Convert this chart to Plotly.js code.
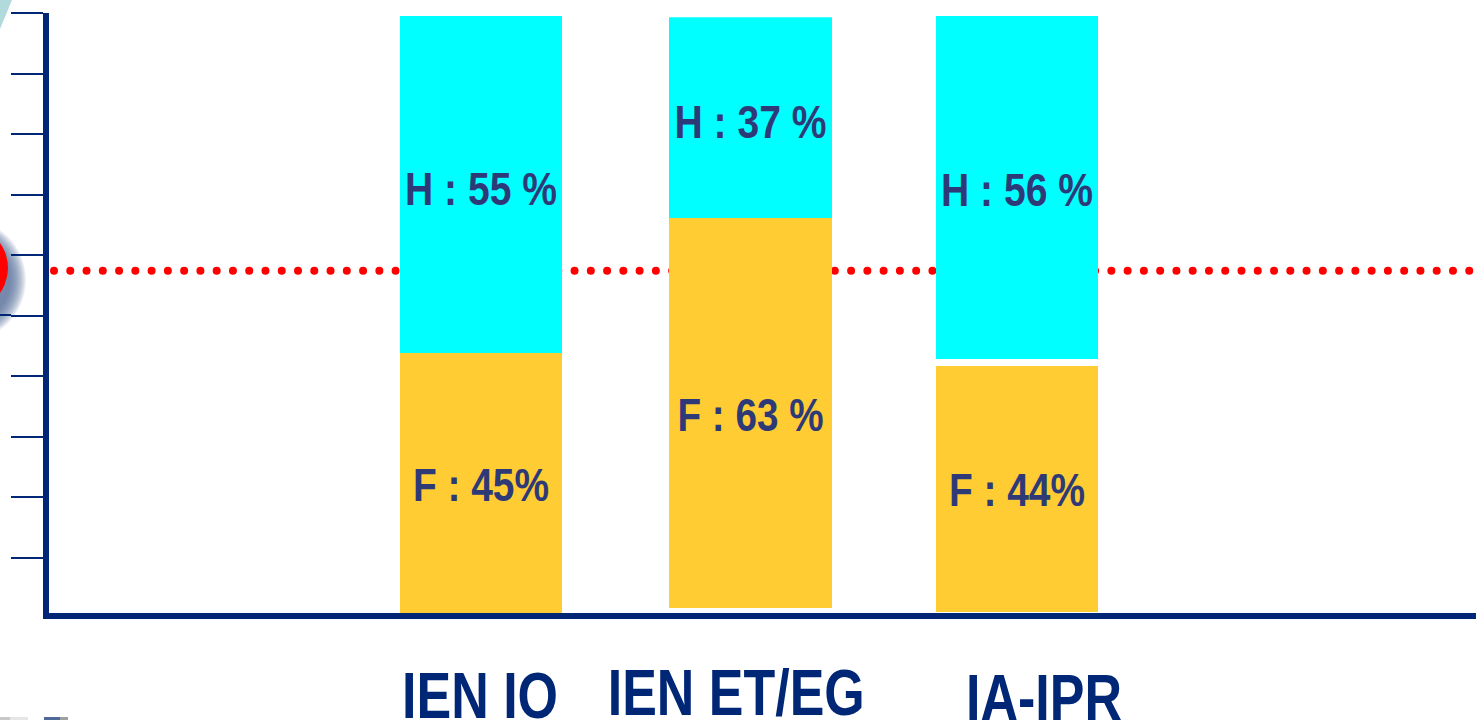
<!DOCTYPE html>
<html><head><meta charset="utf-8">
<script src="https://cdn.plot.ly/plotly-3.0.1.min.js"></script>
<style>
html,body{margin:0;padding:0;background:#fff;overflow:hidden}
#c{width:1476px;height:720px}
</style></head><body><div id="c"></div>
<script>
// Categories and bar extents in axis units (0-100 scale)
const categories = ['IEN IO', 'IEN ET/EG', 'IA-IPR'];
const categoryX = [481, 750.5, 1017];
const femaleBase = [0.83, 1.65, 0.99];
const femaleTop = [43.8, 66.1, 41.65];
const maleBase = [43.8, 66.1, 42.8];
const maleTop = [99.5, 99.3, 99.5];
const femaleLabels = ['F : 45%', 'F : 63 %', 'F : 44%'];
const maleLabels = ['H : 55 %', 'H : 37 %', 'H : 56 %'];
const yTicks = [10,20,30,40,50,60,70,80,90,100];
const referenceLevel = 57.4;

// Layout-only settings
const barWidths = [162, 163, 162];
const catLabelX = [480, 736.5, 1044];
const catLabelY = [695.5, 693, 697.5];
const catLabelW = [156, 257, 156];
const femaleLabelW = [136, 146, 136];
const maleLabelW = [152, 152, 152];
const femaleNudge = [2, 2, 1];
const maleNudge = [4, 4, 2];

const NAVY = '#002776', TEXT = '#2E3A78', FONT = '"Liberation Sans",Arial,sans-serif';
const px = v => (v - 49) / 1427, py = v => (613 - v) / 600;
const circle = (cx, cy, r, color, op) => ({type:'circle', xref:'paper', yref:'paper', layer:'below',
  x0:px(cx-r), x1:px(cx+r), y0:py(cy+r), y1:py(cy-r), fillcolor:color, opacity:op, line:{width:0}});
const box = (x0,x1,y0,y1,color) => ({type:'rect', xref:'paper', yref:'paper', layer:'above',
  x0:px(x0), x1:px(x1), y0:py(y1), y1:py(y0), fillcolor:color, line:{width:0}});

const shapes = [
  {type:'path', xref:'paper', yref:'paper', layer:'above',
   path:`M ${px(0)} ${py(0)} L ${px(12)} ${py(0)} L ${px(0)} ${py(29)} Z`, fillcolor:'#B2DADD', line:{width:0}}
];
[61,60,59,58,57,56,55,54,53,52,51,50,49,48,47,46,45].forEach(r => shapes.push(circle(-35, 280, r, '#5A6C9C', 0.09)));
shapes.push(circle(-35, 268, 43, '#FF0000', 1));
shapes.push(box(0,11,314,316,NAVY));
shapes.push(box(0,10,717,720,'#C8C8C8'));
shapes.push(box(10,28,717,720,'#E6E6E6'));
shapes.push(box(44,60,717,720,'#4E6A9A'));
shapes.push(box(60,68,717,720,'#A0A0A0'));
shapes.push({type:'line', xref:'x', yref:'y', layer:'below', x0:54, x1:1476, y0:referenceLevel, y1:referenceLevel,
   line:{color:'#FF0000', width:8, dash:'8px,8.27px'}});

const stack = (base, top, labels, color, name) => ({
  type:'bar', name, x:categoryX, base, y:top.map((t,i)=>t-base[i]), width:barWidths,
  marker:{color, line:{width:0}}, text:labels, textposition:'inside', insidetextanchor:'middle',
  textangle:0, constraintext:'none', insidetextfont:{family:FONT, size:46, color:TEXT, weight:700}, hoverinfo:'name+text'
});

const data = [
  stack(femaleBase, femaleTop, femaleLabels, '#FFCC33', 'F'),
  stack(maleBase, maleTop, maleLabels, '#00FFFF', 'H')
];

const layout = {
  width:1476, height:720, showlegend:false, barmode:'overlay',
  paper_bgcolor:'#fff', plot_bgcolor:'rgba(0,0,0,0)',
  margin:{l:49, r:0, t:13, b:107, pad:0},
  xaxis:{range:[49,1476], showgrid:false, zeroline:false, showticklabels:false, ticks:'',
         showline:true, linecolor:NAVY, linewidth:6},
  yaxis:{range:[0.83,100], tickmode:'array', tickvals:yTicks, showticklabels:false, showgrid:false, zeroline:false,
         ticks:'outside', ticklen:32, tickwidth:2, tickcolor:NAVY, showline:true, linecolor:NAVY, linewidth:6},
  shapes,
  annotations: categories.map((c,i)=>({text:c, xref:'x', yref:'paper', x:catLabelX[i], y:py(catLabelY[i]), yanchor:'middle', xanchor:'center',
    showarrow:false, font:{family:FONT, size:64, color:NAVY, weight:700}}))
};
Plotly.newPlot('c', data, layout, {displayModeBar:false, staticPlot:true}).then(() => {
  const narrow = (el, w) => { el.setAttribute('textLength', w); el.setAttribute('lengthAdjust', 'spacingAndGlyphs'); };
  const barGroups = document.querySelectorAll('.barlayer .trace.bars');
  [[femaleLabelW, femaleNudge], [maleLabelW, maleNudge]].forEach(([widths, nudge], t) => {
    barGroups[t].querySelectorAll('text').forEach((el, i) => { narrow(el, widths[i]); el.setAttribute('dy', nudge[i]); });
  });
  document.querySelectorAll('.annotation-text').forEach((el, i) => narrow(el, catLabelW[i]));
  const dots = [...document.querySelectorAll('.shapelayer path')].find(p => (p.style.strokeDasharray || '').includes('8'));
  if (dots) { dots.style.strokeLinecap = 'round'; dots.style.strokeDasharray = '0.01px,16.257px'; }
});
</script></body></html>
